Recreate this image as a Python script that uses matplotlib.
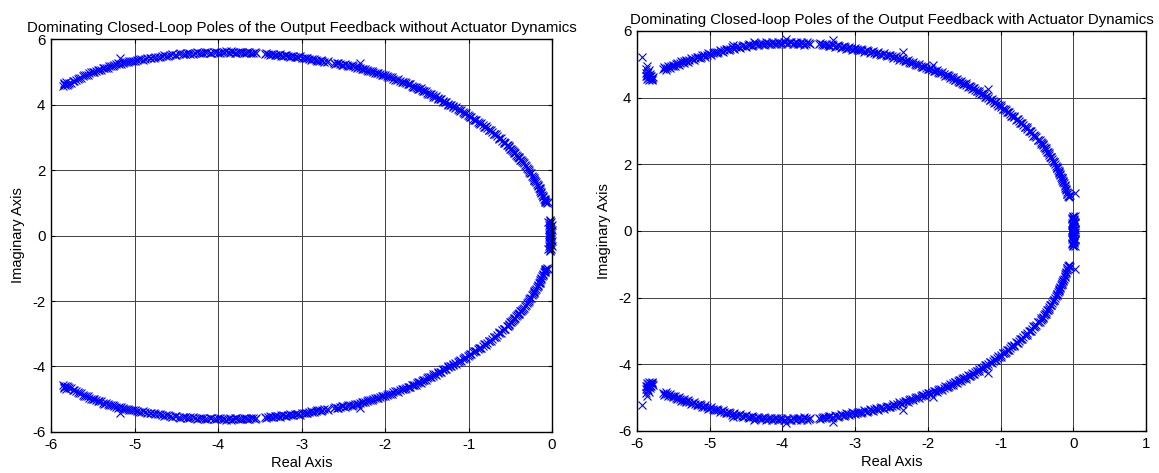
import matplotlib
matplotlib.use("Agg")
import matplotlib.pyplot as plt
import numpy as np

plt.rcParams["font.family"] = ["Liberation Sans", "DejaVu Sans"]
plt.rcParams["axes.unicode_minus"] = False

# upper-half closed-loop poles (real, imag); the lower half is the conjugate set
# --- without actuator dynamics, first batch of samples
re_no_act = [
    -5.86, -5.85, -5.83, -5.82, -5.80, -5.78, -5.74, -5.70, -5.66, -5.62, -5.58, -5.54,
    -5.50, -5.46, -5.42, -5.38, -5.34, -5.30, -5.26, -5.22, -5.17,
    -5.18, -5.14, -5.10, -5.06, -5.02,
    -4.97, -4.92, -4.87, -4.82, -4.77, -4.72, -4.67,
    -4.62, -4.57, -4.52, -4.47, -4.42, -4.37, -4.33,
    -4.28, -4.23, -4.18, -4.13, -4.08, -4.03,
    -3.98, -3.93, -3.88, -3.84, -3.80, -3.76,
    -3.71, -3.67, -3.63, -3.58, -3.54, -3.44,
    -3.40, -3.36, -3.32, -3.28, -3.24, -3.20, -3.16, -3.12, -3.08, -3.04,
    -2.99, -2.95, -2.91, -2.87, -2.83, -2.79, -2.75, -2.70, -2.61,
    -2.58, -2.54, -2.50, -2.46, -2.42, -2.38, -2.30,
    -2.34, -2.30, -2.26, -2.22, -2.18, -2.14, -2.10, -2.06, -2.02,
    -1.98, -1.94, -1.90, -1.86, -1.82, -1.78, -1.75,
    -1.71, -1.68, -1.65, -1.62, -1.59, -1.56, -1.53, -1.50,
    -1.46, -1.43, -1.40, -1.37, -1.34, -1.31, -1.28, -1.25, -1.22,
    -1.19, -1.16, -1.13, -1.10, -1.07, -1.04, -1.01,
    -0.98, -0.95, -0.92, -0.89, -0.86, -0.83, -0.80, -0.78,
    -0.75, -0.72, -0.69, -0.66, -0.63, -0.60, -0.57,
    -0.53, -0.51, -0.49, -0.47, -0.45, -0.43, -0.41, -0.39, -0.37, -0.35,
    -0.32, -0.30, -0.29, -0.27, -0.26, -0.24, -0.22, -0.21, -0.20,
    -0.18, -0.17, -0.16, -0.15, -0.14, -0.13, -0.12, -0.11, -0.10,
    -0.09, -0.08, -0.07, -0.06,
    -0.03, -0.01, -0.02, -0.04, -0.01, -0.03, -0.02, 0.00, -0.03, -0.02, -0.04, -0.01, -0.02,
]
im_no_act = [
    4.58, 4.64, 4.60, 4.68, 4.63, 4.66, 4.72, 4.75, 4.80, 4.86, 4.90, 4.95,
    4.99, 5.03, 5.05, 5.10, 5.12, 5.17, 5.19, 5.24, 5.42,
    5.25, 5.28, 5.29, 5.32, 5.33,
    5.35, 5.38, 5.39, 5.42, 5.43, 5.46, 5.47,
    5.49, 5.51, 5.51, 5.53, 5.54, 5.56, 5.55,
    5.57, 5.58, 5.56, 5.59, 5.58, 5.60,
    5.58, 5.61, 5.59, 5.62, 5.58, 5.60,
    5.59, 5.58, 5.59, 5.57, 5.58, 5.55,
    5.53, 5.54, 5.51, 5.52, 5.49, 5.50, 5.47, 5.48, 5.45, 5.46,
    5.43, 5.42, 5.40, 5.38, 5.37, 5.34, 5.34, 5.31, 5.28,
    5.26, 5.25, 5.22, 5.21, 5.18, 5.17, 5.26,
    5.13, 5.11, 5.07, 5.05, 5.01, 4.99, 4.95, 4.93, 4.89,
    4.86, 4.83, 4.79, 4.76, 4.72, 4.69, 4.66,
    4.62, 4.58, 4.55, 4.51, 4.48, 4.44, 4.41, 4.36,
    4.32, 4.28, 4.24, 4.19, 4.16, 4.11, 4.07, 4.03, 3.98,
    3.94, 3.89, 3.85, 3.81, 3.76, 3.72, 3.67,
    3.63, 3.57, 3.53, 3.47, 3.42, 3.36, 3.31, 3.27,
    3.21, 3.15, 3.09, 3.03, 2.96, 2.90, 2.84,
    2.75, 2.69, 2.63, 2.58, 2.52, 2.47, 2.41, 2.36, 2.30, 2.25,
    2.15, 2.07, 2.03, 1.95, 1.91, 1.83, 1.75, 1.71, 1.66,
    1.58, 1.52, 1.46, 1.41, 1.35, 1.29, 1.24, 1.18, 1.12,
    1.07, 1.04, 1.01, 1.00,
    0.46, 0.42, 0.37, 0.33, 0.29, 0.25, 0.21, 0.17, 0.13, 0.09, 0.05, 0.02, 0.00,
]
# --- without actuator dynamics, second batch of samples
re_no_act_2 = [
    -5.84, -5.81, -5.76, -5.72, -5.68, -5.64, -5.60, -5.56, -5.52, -5.48, -5.44, -5.40,
    -5.36, -5.32, -5.28, -5.24, -5.20, -5.16, -5.12, -5.08, -5.04, -5.00,
    -4.95, -4.90, -4.85, -4.80, -4.75, -4.70, -4.65, -4.60, -4.55, -4.50, -4.45, -4.40,
    -4.35, -4.30, -4.25, -4.20, -4.15, -4.10, -4.05, -4.00, -3.95, -3.90, -3.86, -3.82,
    -3.78, -3.74, -3.69, -3.65, -3.61, -3.56,
    -3.42, -3.38, -3.34, -3.30, -3.26, -3.22, -3.18, -3.14, -3.10, -3.06, -3.02,
    -2.97, -2.93, -2.89, -2.85, -2.81, -2.77, -2.73, -2.68,
    -2.60, -2.56, -2.52, -2.48, -2.44, -2.40, -2.36, -2.32, -2.28, -2.24, -2.20, -2.16,
    -2.12, -2.08, -2.04, -2.00, -1.96, -1.92, -1.88, -1.84, -1.80, -1.76, -1.73, -1.70,
    -1.66, -1.63, -1.60, -1.57, -1.54, -1.51, -1.48, -1.45, -1.42, -1.39, -1.36, -1.33,
    -1.30, -1.27, -1.24, -1.21, -1.18, -1.15, -1.12, -1.09, -1.06, -1.03, -1.00, -0.97,
    -0.94, -0.91, -0.88, -0.85, -0.82, -0.79, -0.76, -0.73, -0.70, -0.67, -0.64, -0.61,
    -0.58, -0.56, -0.54, -0.52, -0.50, -0.48, -0.46, -0.44, -0.42, -0.40, -0.38, -0.36,
    -0.34, -0.31, -0.28, -0.25, -0.23, -0.21, -0.19, -0.17, -0.15, -0.13, -0.11, -0.09,
    -0.08, -0.05,
    -0.05, -0.02, 0.00, -0.04, -0.01, -0.03,
]
im_no_act_2 = [
    4.66, 4.60, 4.67, 4.71, 4.79, 4.81, 4.89, 4.91, 4.98, 4.99, 5.06, 5.06,
    5.13, 5.13, 5.19, 5.20, 5.26, 5.25, 5.30, 5.29, 5.34, 5.32,
    5.38, 5.37, 5.42, 5.41, 5.46, 5.45, 5.50, 5.48, 5.53, 5.52, 5.56, 5.53,
    5.58, 5.55, 5.59, 5.57, 5.61, 5.57, 5.61, 5.57, 5.60, 5.62, 5.58, 5.61,
    5.57, 5.61, 5.57, 5.60, 5.57, 5.60,
    5.56, 5.52, 5.55, 5.50, 5.53, 5.48, 5.51, 5.46, 5.49, 5.44, 5.47,
    5.41, 5.43, 5.37, 5.39, 5.34, 5.36, 5.31, 5.33,
    5.25, 5.28, 5.22, 5.24, 5.18, 5.20, 5.14, 5.15, 5.08, 5.09, 5.02, 5.03,
    4.96, 4.97, 4.90, 4.91, 4.83, 4.84, 4.76, 4.77, 4.69, 4.70, 4.62, 4.63,
    4.55, 4.55, 4.47, 4.49, 4.40, 4.42, 4.33, 4.33, 4.24, 4.25, 4.17, 4.16,
    4.08, 4.09, 4.00, 4.00, 3.91, 3.92, 3.82, 3.83, 3.73, 3.74, 3.64, 3.63,
    3.53, 3.53, 3.43, 3.43, 3.32, 3.33, 3.22, 3.21, 3.10, 3.09, 2.97, 2.97,
    2.85, 2.84, 2.76, 2.73, 2.65, 2.62, 2.54, 2.51, 2.43, 2.40, 2.32, 2.29,
    2.20, 2.12, 2.01, 1.90, 1.80, 1.69, 1.62, 1.55, 1.44, 1.33, 1.21, 1.10,
    1.02, 1.03,
    0.40, 0.44, 0.31, 0.19, 0.11, 0.03,
]

# --- with actuator dynamics, first batch of samples
re_act = [
    -5.93, -5.86, -5.87, -5.85, -5.86, -5.84, -5.87, -5.83, -5.85, -5.82, -5.80, -5.86, -5.81, -5.79,
    -5.64, -5.62, -5.59, -5.56, -5.53, -5.50, -5.47, -5.44, -5.41, -5.38, -5.35, -5.32, -5.28,
    -5.24, -5.20, -5.16, -5.12, -5.08, -5.04, -5.00,
    -4.96, -4.92, -4.88, -4.84, -4.80, -4.76, -4.72, -4.68, -4.68, -4.64,
    -4.60, -4.56, -4.52, -4.48, -4.44, -4.39, -4.40, -4.36, -4.32,
    -4.28, -4.24, -4.20, -4.16, -4.12, -4.08, -4.04, -4.00, -3.95, -3.96, -3.92, -3.88,
    -3.84, -3.80, -3.76, -3.72, -3.68, -3.64,
    -3.50, -3.46, -3.42, -3.38, -3.34, -3.30, -3.30, -3.26, -3.22, -3.18, -3.14, -3.10, -3.06, -3.02,
    -2.98, -2.94, -2.90, -2.86, -2.82, -2.78, -2.74, -2.70, -2.66, -2.62,
    -2.58, -2.54, -2.50, -2.46, -2.42, -2.38, -2.34, -2.34, -2.30,
    -2.26, -2.22, -2.18, -2.14, -2.10, -2.06, -2.02, -1.98, -1.93, -1.94, -1.90, -1.86, -1.82,
    -1.78, -1.74,
    -1.71, -1.68, -1.65, -1.62, -1.59, -1.56, -1.53, -1.50, -1.47, -1.44, -1.41,
    -1.38, -1.35, -1.32, -1.29, -1.26, -1.23, -1.20, -1.17, -1.17, -1.14, -1.11, -1.08, -1.05,
    -1.02, -0.99,
    -0.96, -0.93, -0.90, -0.87, -0.84, -0.81, -0.78, -0.75, -0.72, -0.69,
    -0.66, -0.63, -0.60, -0.57, -0.54, -0.51, -0.48, -0.45, -0.43,
    -0.41, -0.39, -0.37, -0.35, -0.33, -0.31, -0.29, -0.27, -0.25, -0.23,
    -0.22, -0.21, -0.20, -0.19, -0.18, -0.17, -0.16, -0.15, -0.14, -0.13,
    -0.12, -0.11, -0.10, -0.09, -0.08, -0.07, -0.06, 0.02,
    -0.01, 0.00, -0.02, 0.01, -0.01, 0.02, 0.00, -0.02, 0.01, 0.00, -0.01, 0.02, 0.00, 0.01, -0.01,
]
im_act = [
    5.22, 4.95, 4.85, 4.78, 4.72, 4.68, 4.64, 4.62, 4.58, 4.56, 4.60, 4.55, 4.66, 4.57,
    4.85, 4.89, 4.88, 4.92, 4.95, 4.96, 5.00, 5.01, 5.05, 5.07, 5.10, 5.11, 5.14,
    5.17, 5.18, 5.22, 5.23, 5.27, 5.29, 5.32,
    5.33, 5.37, 5.38, 5.41, 5.42, 5.46, 5.47, 5.57, 5.50, 5.52,
    5.52, 5.55, 5.56, 5.57, 5.59, 5.67, 5.58, 5.61, 5.61,
    5.62, 5.60, 5.63, 5.62, 5.64, 5.62, 5.65, 5.63, 5.77, 5.66, 5.64, 5.66,
    5.63, 5.65, 5.62, 5.64, 5.61, 5.63,
    5.60, 5.61, 5.58, 5.59, 5.56, 5.74, 5.57, 5.54, 5.55, 5.52, 5.52, 5.49, 5.50, 5.47,
    5.46, 5.44, 5.43, 5.40, 5.39, 5.37, 5.35, 5.34, 5.32, 5.31,
    5.28, 5.27, 5.24, 5.21, 5.19, 5.16, 5.37, 5.13, 5.11,
    5.07, 5.05, 5.01, 4.98, 4.96, 4.93, 4.90, 4.87, 4.97, 4.84, 4.80, 4.77, 4.74,
    4.70, 4.67,
    4.64, 4.61, 4.57, 4.54, 4.51, 4.48, 4.45, 4.42, 4.39, 4.35, 4.32,
    4.28, 4.24, 4.20, 4.15, 4.12, 4.07, 4.03, 4.25, 3.99, 3.94, 3.90, 3.86, 3.81,
    3.77, 3.73,
    3.67, 3.62, 3.57, 3.51, 3.46, 3.41, 3.35, 3.30, 3.24, 3.18,
    3.12, 3.06, 3.00, 2.93, 2.87, 2.81, 2.74, 2.68, 2.63,
    2.57, 2.50, 2.43, 2.36, 2.29, 2.22, 2.15, 2.07, 2.00, 1.93,
    1.88, 1.83, 1.78, 1.73, 1.68, 1.63, 1.58, 1.53, 1.48, 1.43,
    1.36, 1.30, 1.23, 1.16, 1.10, 1.04, 1.01, 1.14,
    0.46, 0.41, 0.37, 0.33, 0.29, 0.25, 0.21, 0.17, 0.13, 0.09, 0.05, 0.02, 0.00, 0.30, 0.10,
]
# --- with actuator dynamics, second batch of samples
re_act_2 = [
    -5.88, -5.84, -5.82, -5.80, -5.84, -5.78, -5.86, -5.82,
    -5.63, -5.60, -5.57, -5.54, -5.51, -5.48, -5.45, -5.42, -5.39, -5.36, -5.33, -5.30,
    -5.26, -5.22, -5.18, -5.14, -5.10, -5.06, -5.02, -4.98,
    -4.94, -4.90, -4.86, -4.82, -4.78, -4.74, -4.70, -4.66, -4.62, -4.58, -4.54, -4.50,
    -4.46, -4.42, -4.38, -4.34, -4.30, -4.26, -4.22, -4.18, -4.14, -4.10, -4.06, -4.02,
    -3.98, -3.94, -3.90, -3.86, -3.82, -3.78, -3.74, -3.70, -3.66, -3.62,
    -3.48, -3.44, -3.40, -3.36, -3.32, -3.28, -3.24, -3.20, -3.16, -3.12, -3.08, -3.04,
    -3.00, -2.96, -2.92, -2.88, -2.84, -2.80, -2.76, -2.72, -2.68, -2.64, -2.60, -2.56,
    -2.52, -2.48, -2.44, -2.40, -2.36, -2.32, -2.28, -2.24, -2.20, -2.16, -2.12, -2.08,
    -2.04, -2.00, -1.96, -1.92, -1.88, -1.84, -1.80, -1.76, -1.72, -1.69, -1.66, -1.63,
    -1.60, -1.57, -1.54, -1.51, -1.48, -1.45, -1.42, -1.39, -1.36, -1.33, -1.30, -1.27,
    -1.24, -1.21, -1.18, -1.15, -1.12, -1.09, -1.06, -1.03, -1.00, -0.97, -0.94, -0.91,
    -0.88, -0.85, -0.82, -0.79, -0.76, -0.73, -0.70, -0.67, -0.64, -0.61, -0.58, -0.55,
    -0.52, -0.49, -0.46, -0.44, -0.42, -0.40, -0.38, -0.36, -0.34, -0.32, -0.30, -0.28,
    -0.26, -0.24, -0.22, -0.20, -0.18, -0.16, -0.14, -0.12, -0.10, -0.08, -0.06, -0.05,
    0.02, -0.02, 0.03, -0.02, 0.02, -0.02, 0.01, 0.00,
]
im_act_2 = [
    4.74, 4.82, 4.70, 4.53, 4.52, 4.62, 4.66, 4.64,
    4.91, 4.84, 4.95, 4.89, 4.99, 4.94, 5.04, 4.99, 5.09, 5.05, 5.14, 5.08,
    5.18, 5.13, 5.23, 5.18, 5.28, 5.23, 5.33, 5.29,
    5.38, 5.33, 5.42, 5.37, 5.47, 5.42, 5.51, 5.47, 5.56, 5.50, 5.59, 5.53,
    5.61, 5.55, 5.64, 5.58, 5.65, 5.59, 5.66, 5.60, 5.67, 5.60, 5.67, 5.60,
    5.68, 5.61, 5.68, 5.60, 5.67, 5.60, 5.66, 5.59, 5.66, 5.60,
    5.64, 5.57, 5.62, 5.55, 5.60, 5.52, 5.58, 5.50, 5.55, 5.47, 5.53, 5.44,
    5.50, 5.42, 5.47, 5.38, 5.43, 5.35, 5.40, 5.31, 5.36, 5.28, 5.33, 5.24,
    5.28, 5.19, 5.24, 5.14, 5.19, 5.09, 5.14, 5.04, 5.07, 4.97, 5.01, 4.92,
    4.95, 4.86, 4.90, 4.80, 4.82, 4.73, 4.76, 4.66, 4.68, 4.60, 4.62, 4.53,
    4.55, 4.46, 4.49, 4.40, 4.43, 4.33, 4.36, 4.26, 4.28, 4.19, 4.21, 4.10,
    4.13, 4.02, 4.05, 3.94, 3.95, 3.85, 3.87, 3.76, 3.77, 3.66, 3.67, 3.56,
    3.56, 3.45, 3.46, 3.34, 3.35, 3.23, 3.23, 3.11, 3.11, 2.99, 2.99, 2.86,
    2.86, 2.73, 2.73, 2.62, 2.62, 2.51, 2.48, 2.37, 2.35, 2.23, 2.21, 2.09,
    2.06, 1.94, 1.90, 1.80, 1.70, 1.60, 1.50, 1.38, 1.25, 1.12, 1.04, 1.08,
    0.44, 0.40, 0.27, 0.23, 0.07, 0.03, 0.36, 0.15,
]

titles = [
    "Dominating Closed-Loop Poles of the Output Feedback without Actuator Dynamics",
    "Dominating Closed-loop Poles of the Output Feedback with Actuator Dynamics",
]
x_ticks = [np.arange(-6, 1), np.arange(-6, 2)]
y_ticks = np.arange(-6, 7, 2)

fig = plt.figure(figsize=(11.59, 4.73), dpi=100)
axes = [
    fig.add_axes([0.0440, 0.0867, 0.4323, 0.8308]),
    fig.add_axes([0.5496, 0.0888, 0.4392, 0.8457]),
]
poles = [
    (re_no_act + re_no_act_2, im_no_act + im_no_act_2),
    (re_act + re_act_2, im_act + im_act_2),
]

for ax, (re, im), title, xt in zip(axes, poles, titles, x_ticks):
    re = np.array(re)
    im = np.array(im)
    # conjugate pairs: plot both halves of the plane
    ax.plot(np.concatenate([re, re]), np.concatenate([im, -im]), "x",
            color=(0, 0, 1), markersize=5.3, markeredgewidth=0.8, clip_on=False)
    ax.set_xlim(xt[0], xt[-1])
    ax.set_ylim(-6, 6)
    ax.set_xticks(xt)
    ax.set_yticks(y_ticks)
    ax.grid(True, color="#404040", linewidth=0.7)
    ax.set_axisbelow(True)
    ax.tick_params(direction="in", length=3, width=0.8, top=True, right=True,
                   labelsize=10.8, pad=4)
    for sp in ax.spines.values():
        sp.set_linewidth(1.0)
    ax.set_title(title, fontsize=10.8, pad=5)
    ax.set_xlabel("Real Axis", fontsize=10.5, labelpad=3)
    ax.set_ylabel("Imaginary Axis", fontsize=10.5, labelpad=5)

fig.savefig("out.png", dpi=100)
plt.close(fig)
